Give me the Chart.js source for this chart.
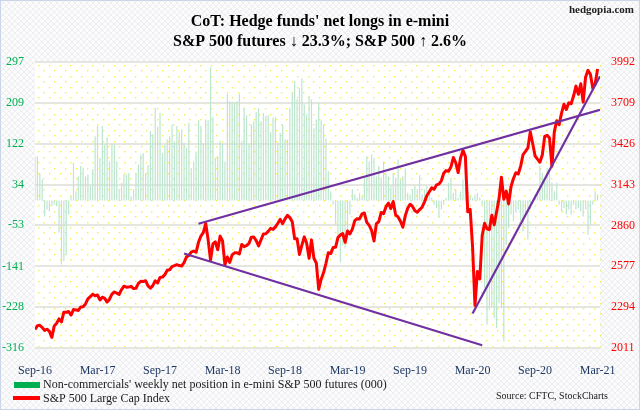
<!DOCTYPE html>
<html>
<head>
<meta charset="utf-8">
<script src="https://cdn.jsdelivr.net/npm/chart.js@4.4.1/dist/chart.umd.min.js"></script>
<style>
  html, body { margin: 0; padding: 0; background: #fafafa; }
  #wrap { width: 640px; height: 410px; position: relative; }
</style>
</head>
<body>
<div id="wrap"><canvas id="cotChart"></canvas></div>
<script>
// weekly, mid-Sep 2016 .. mid-Mar 2021
const xTickLabels = ['Sep-16', 'Mar-17', 'Sep-17', 'Mar-18', 'Sep-18', 'Mar-19', 'Sep-19', 'Mar-20', 'Sep-20', 'Mar-21'];
const weeksPerLabel = 26;
const leftTicks = [297, 209, 122, 34, -53, -141, -228, -316];
const rightTicks = [3992, 3709, 3426, 3143, 2860, 2577, 2294, 2011];

// non-commercials net position, e-mini S&P 500 futures (000)
const netLongs = [
  94, 95, 59, 45, -34, -19, -23, -12, -9, -12, -69, -137, -130, -116, -30, 9, 81, 20, 52, 74, 70, 52, 56, 31,
  67, 138, 160, 92, 160, 120, 135, 84, 122, 120, 84, 24, 38, 56, 56, 59, 9, 24, 59, 77, 99, 102, 59,
  76, 149, 142, 199, 158, 188, 102, 119, 131, 138, 163, 127, 160, 147, 153, 124, 113, 167, 70, 84, 105, 172,
  160, 122, 174, 172, 286, 179, 92, 95, 127, 122, 84, 228, 213, 212, 210, 213, 229, 127, 199, 183, 122, 163,
  170, 190, 198,
  170, 188, 181, 183, 147, 178, 179, 124, 145, 163, 131, 131, 199, 231, 256, 217, 241, 262, 206, 185, 224,
  217, 155, 174, 210, 172, 163, 133, 63, 20, -9, -52, -77, -132, -95, -102, -66, -30, 24, 13, 6, 16, 9, 49,
  95, 84,
  99, 92, 52, 74, 49, 84, 59, 52, 31, 59, 49, 88, 45, 52, 69, 16, 13, 24, 31, 24, 54, 13, 24, 31, 16, 6,
  -9, -16, -37, -19, -9, 6, 38, 49, 16, 24, 6, 20, 45, 27, 20, 9, 6, 13, 16, 6, -9,
  -188, -266, -234, -227, -252, -273, -220, -230, -302, -95, -59, -30, -44, -26, -19, -44, -66, -30, -84,
  -19, -1, 13, 24, 74, 59, 42, 70, 59, 38, 20, 38, -9, -23, -16, -30, -19, -30, -9, -19, -16, -23, -34,
  -19, -73, -52, -9, 20, 13
];

// S&P 500 weekly close
const spx = [
  2139, 2165, 2168, 2153, 2133, 2141, 2126, 2085, 2164, 2182, 2213, 2192, 2259, 2258, 2264, 2239,
  2277, 2275, 2271, 2295, 2297, 2316, 2351, 2367, 2383, 2373, 2378, 2344, 2363, 2355, 2329, 2349, 2384,
  2399, 2391, 2382, 2416, 2439, 2432, 2433, 2438, 2423, 2425, 2459, 2473, 2472, 2477, 2441, 2426, 2443,
  2477, 2461, 2500, 2502, 2519, 2549, 2553, 2575, 2581, 2588, 2582, 2579, 2602, 2642, 2652, 2675, 2683, 2674,
  2743, 2786, 2810, 2873, 2762, 2620, 2732, 2747, 2691, 2786, 2752, 2588, 2641, 2604, 2656, 2670, 2670,
  2663, 2728, 2713, 2721, 2735, 2779, 2780, 2755, 2718, 2760, 2801, 2802, 2819, 2840, 2833, 2850, 2875,
  2902, 2872, 2905, 2930, 2914, 2886, 2767, 2768, 2659, 2723, 2781, 2736, 2633, 2760, 2633, 2600, 2417, 2486,
  2532, 2596, 2671, 2665, 2707, 2708, 2776, 2793, 2804, 2743, 2822, 2801, 2834, 2893, 2907, 2905, 2940,
  2946, 2881, 2860, 2826, 2752, 2873, 2887, 2950, 2942, 2990, 3014, 2977, 3026, 2932, 2919, 2889, 2847,
  2926, 2979, 3007, 2992, 2962, 2952, 2970, 2986, 3023, 3067, 3093, 3120, 3110, 3141, 3146, 3169, 3221, 3240,
  3235, 3265, 3330, 3295, 3226, 3328, 3380, 3338, 2954, 2972, 2711, 2305, 2541, 2489, 2790, 2875, 2837,
  2831, 2930, 2864, 2955, 3044, 3194, 3041, 3098, 3009, 3130, 3185, 3225, 3216, 3271, 3351, 3373, 3397,
  3508, 3427, 3341, 3319, 3298, 3348, 3477, 3484, 3465, 3270, 3510, 3585, 3558, 3638, 3699, 3663, 3709,
  3703, 3756,
  3825, 3768, 3841, 3714, 3887, 3934, 3907, 3811, 3842, 3943
];

// trend lines as [week, S&P level]
const upperTrend = [[68, 2872], [235, 3660]];
const lowerTrend = [[62, 2666], [186, 2030]];
const steepTrend = [[182, 2250], [235, 3894]];

const toXY = (arr) => arr.map((v, i) => ({ x: i, y: v }));
const pairXY = (arr) => arr.map(([x, y]) => ({ x, y }));

Chart.defaults.font.family = "'Liberation Serif', 'Times New Roman', serif";
Chart.defaults.font.size = 12;

const tile = document.createElement('canvas');
tile.width = tile.height = 6;
const tctx = tile.getContext('2d');
tctx.fillStyle = '#fbfbfb';
tctx.fillRect(0, 0, 6, 6);
tctx.strokeStyle = '#eceef1';
tctx.beginPath();
tctx.moveTo(0, 6); tctx.lineTo(6, 0);
tctx.moveTo(0, 0); tctx.lineTo(6, 6);
tctx.stroke();

const decor = {
    id: 'decor',
    beforeDraw(chart) {
        const { ctx, chartArea: a, width, height } = chart;
        ctx.save();
        ctx.fillStyle = ctx.createPattern(tile, 'repeat');
        ctx.fillRect(0, 0, width, height);
        ctx.fillStyle = '#ffffff';
        ctx.fillRect(a.left, a.top, a.right - a.left, a.bottom - a.top);
        ctx.fillStyle = '#f6ec50';
        let row = 0;
        for (let y = a.top + 3; y < a.bottom; y += 5.4, row++) {
            for (let x = a.left + 3 + (row % 2) * 5.4; x < a.right; x += 10.8) {
                ctx.fillRect(Math.round(x), Math.round(y), 1.4, 1.4);
            }
        }
        ctx.restore();
    },
    afterDraw(chart) {
        const { ctx } = chart;
        const ds = chart.data.datasets;
        ctx.save();
        ctx.textBaseline = 'middle';
        ctx.textAlign = 'left';
        ctx.font = "12px 'Liberation Serif', serif";
        ctx.fillStyle = '#00b050';
        ctx.fillRect(14, 382, 26, 6);
        ctx.fillStyle = '#1a1a1a';
        ctx.fillText(ds[4].label, 43, 385);
        ctx.fillStyle = '#ff0000';
        ctx.fillRect(13, 396, 27, 4);
        ctx.fillStyle = '#1a1a1a';
        ctx.fillText(ds[0].label, 43, 398.5);

        ctx.textAlign = 'right';
        ctx.font = "10px 'Liberation Serif', serif";
        ctx.fillText('Source: CFTC, StockCharts', 608, 396);
        ctx.font = "bold 11px 'Liberation Serif', serif";
        ctx.fillStyle = '#222';
        ctx.fillText('hedgopia.com', 634, 10);

        ctx.strokeStyle = '#c9d6e8';
        ctx.lineWidth = 1;
        ctx.strokeRect(0.5, 0.5, chart.width - 1, chart.height - 1);
        ctx.restore();
    }
};

const trendStyle = {
    type: 'line',
    yAxisID: 'y1',
    borderColor: '#7030a0',
    borderWidth: 2.2,
    pointRadius: 0,
    order: 1
};

new Chart(document.getElementById('cotChart'), {
    type: 'bar',
    data: {
        datasets: [
            {
                type: 'line',
                label: 'S&P 500 Large Cap Index',
                data: toXY(spx),
                yAxisID: 'y1',
                borderColor: '#ff0000',
                borderWidth: 3,
                borderJoinStyle: 'round',
                pointRadius: 0,
                order: 2
            },
            { ...trendStyle, label: 'upper', data: pairXY(upperTrend) },
            { ...trendStyle, label: 'lower', data: pairXY(lowerTrend) },
            { ...trendStyle, label: 'steep', data: pairXY(steepTrend) },
            {
                label: "Non-commercials' weekly net position in e-mini S&P 500 futures (000)",
                data: toXY(netLongs),
                yAxisID: 'y',
                backgroundColor: '#bce6ce',
                barPercentage: 0.5,
                categoryPercentage: 1,
                order: 3
            }
        ]
    },
    options: {
        responsive: true,
        maintainAspectRatio: false,
        animation: false,
        events: [],
        plugins: {
            legend: { display: false },
            tooltip: { enabled: false },
            title: {
                display: true,
                text: ["CoT: Hedge funds' net longs in e-mini", 'S&P 500 futures \u2193 23.3%; S&P 500 \u2191 2.6%'],
                color: '#000',
                font: { size: 16, weight: 'bold', lineHeight: 1.25 },
                padding: { top: 12, bottom: 10 }
            }
        },
        scales: {
            x: {
                type: 'linear',
                min: 0,
                max: 235,
                offset: false,
                grid: { display: false },
                border: { display: false },
                afterBuildTicks: (s) => { s.ticks = xTickLabels.map((_, i) => ({ value: i * weeksPerLabel })); },
                ticks: {
                    color: '#1f3864',
                    padding: 8,
                    maxRotation: 0,
                    autoSkip: false,
                    callback: (v) => xTickLabels[v / weeksPerLabel]
                },
                afterFit: (s) => { s.height = 62; }
            },
            y: {
                position: 'left',
                min: -316,
                max: 297,
                afterBuildTicks: (s) => { s.ticks = leftTicks.map((v) => ({ value: v })); },
                ticks: { color: '#00b050', padding: 11, callback: (v) => String(v) },
                grid: { color: '#e6e6e0', lineWidth: 2, drawTicks: false },
                border: { display: false },
                afterFit: (s) => { s.width = 35; }
            },
            y1: {
                position: 'right',
                min: 2011,
                max: 3992,
                afterBuildTicks: (s) => { s.ticks = rightTicks.map((v) => ({ value: v })); },
                ticks: { color: '#ff0000', padding: 11, callback: (v) => String(v) },
                grid: { display: false, drawTicks: false },
                border: { display: false },
                afterFit: (s) => { s.width = 40; }
            }
        }
    },
    plugins: [decor]
});
</script>
</body>
</html>
